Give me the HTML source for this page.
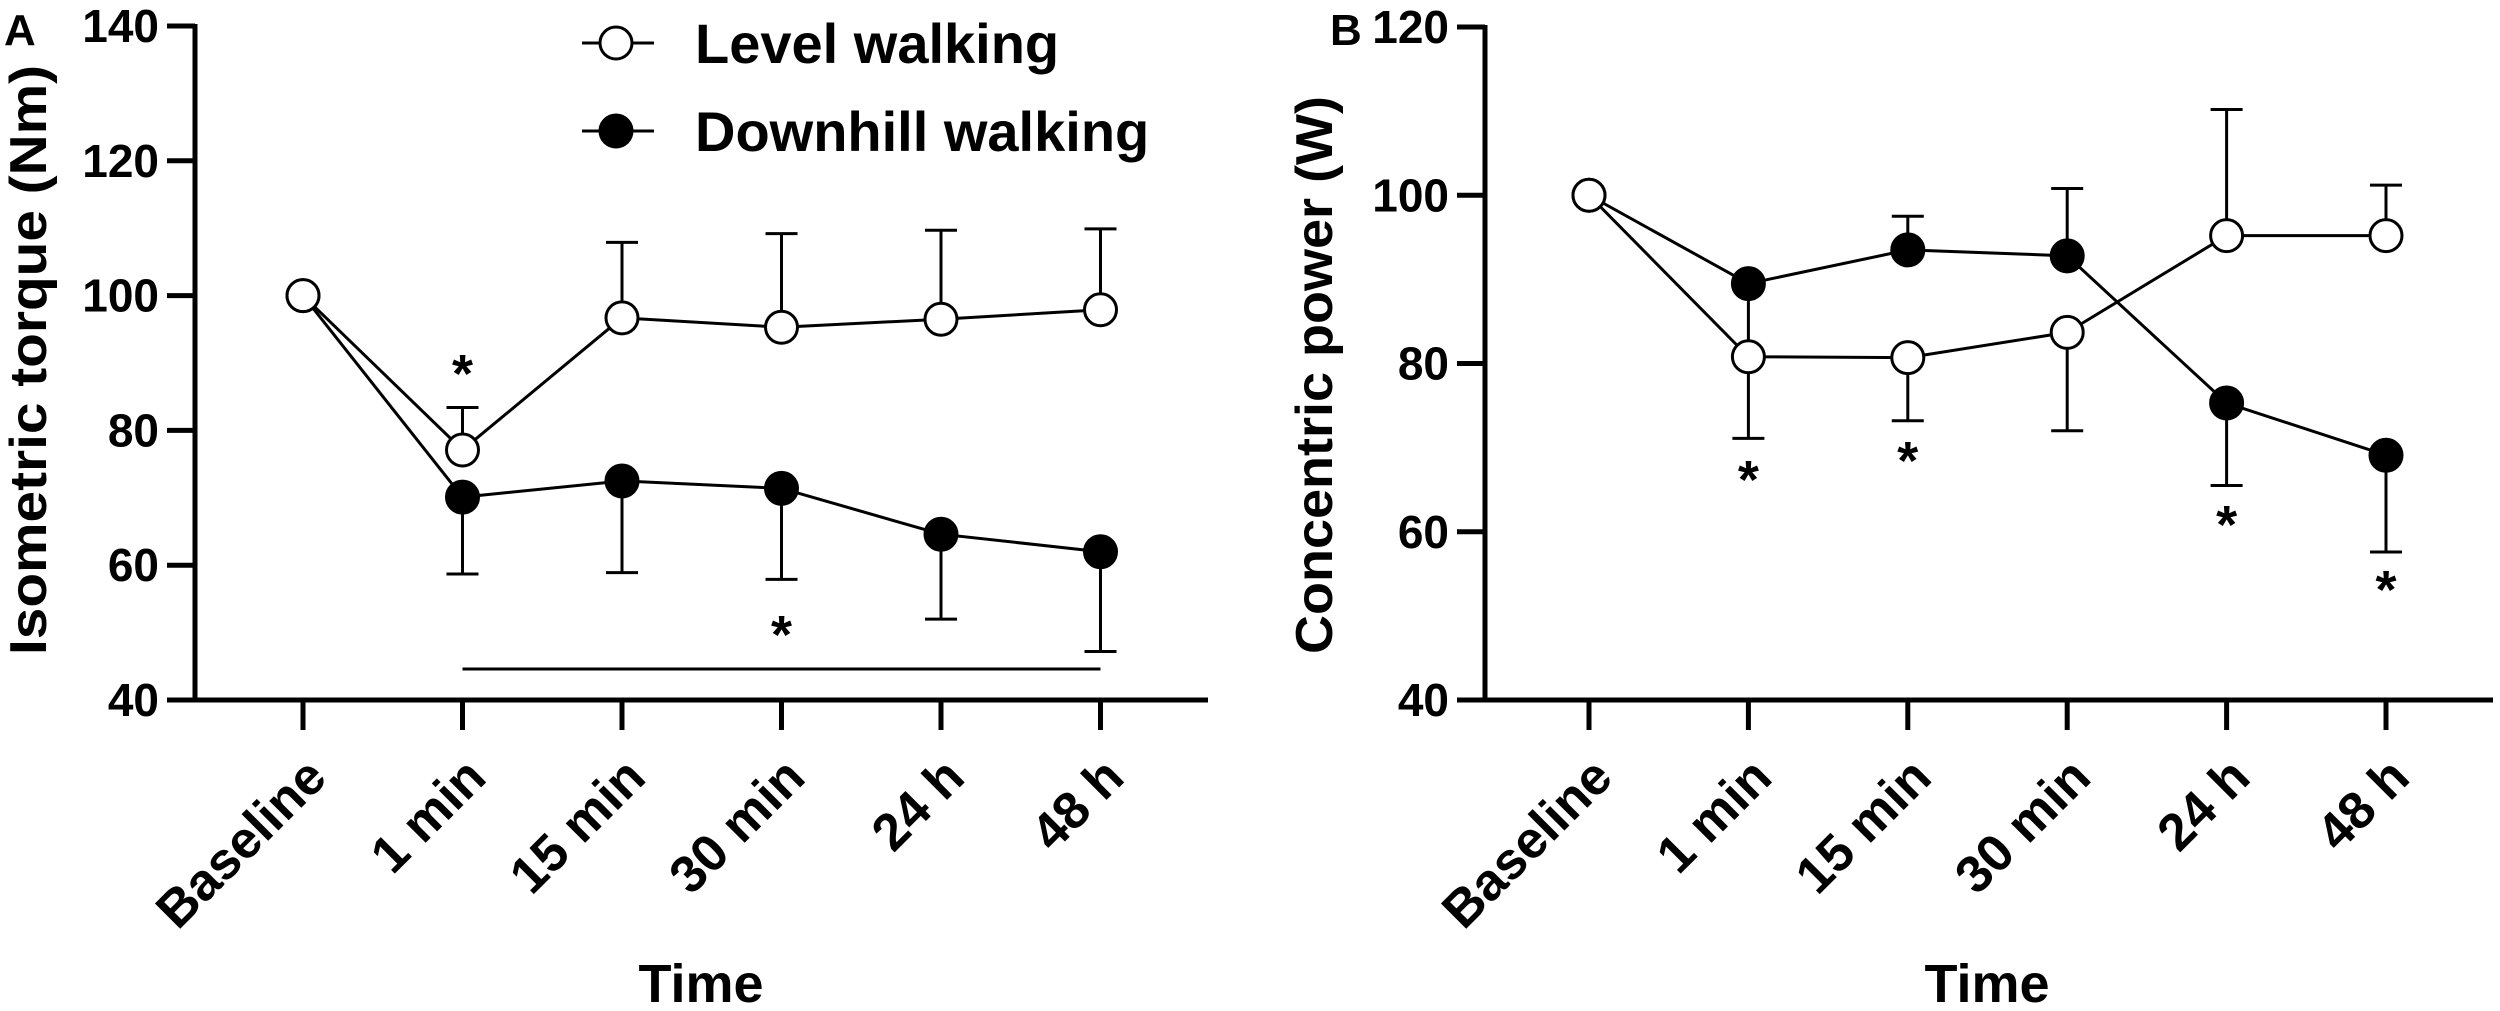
<!DOCTYPE html>
<html><head><meta charset="utf-8"><style>
html,body{margin:0;padding:0;background:#fff;}
svg{display:block;font-family:"Liberation Sans",Arial,sans-serif;font-weight:bold;}
</style></head><body>
<svg id="chart" width="2500" height="1011" viewBox="0 0 2500 1011" xmlns="http://www.w3.org/2000/svg"></svg>
<script>
const categories = ["Baseline","1 min","15 min","30 min","24 h","48 h"];
const aLevel = [100, 77.1, 96.7, 95.3, 96.5, 97.9];
const aLevelErr = [null, 83.4, 107.9, 109.2, 109.7, 109.9];
const aDown = [100, 70.1, 72.5, 71.4, 64.6, 62.0];
const aDownErr = [null, 58.7, 58.9, 57.9, 52.0, 47.2];
const aTicks = [40, 60, 80, 100, 120, 140];
const bLevel = [100, 80.8, 80.7, 83.7, 95.2, 95.2];
const bLevelErr = [null, 71.1, 73.2, 72.0, 110.2, 101.2];
const bDown = [100, 89.5, 93.5, 92.8, 75.3, 69.1];
const bDownErr = [null, 81, 97.5, 100.8, 65.5, 57.6];
const bTicks = [40, 60, 80, 100, 120];

const NS = "http://www.w3.org/2000/svg";
const svg = document.getElementById("chart");
function mk(tag, attrs, parent, txt){
  const e = document.createElementNS(NS, tag);
  for (const k in attrs) e.setAttribute(k, attrs[k]);
  if (txt !== undefined) e.textContent = txt;
  (parent || svg).appendChild(e);
  return e;
}

function panel(p){
  const g = mk("g", {});
  
  
  const y = v => p.yBot - (v - p.yMin) / (p.yMax - p.yMin) * (p.yBot - p.yTop);
  const x = i => p.x0 + i * p.dx;
  const ya = mk("line", {x1:p.ax, y1:p.yTop-2, x2:p.ax, y2:p.yBot+2, stroke:"#000","stroke-width":5}, g);
  
  
  const xa = mk("line", {x1:p.ax-2, y1:p.yBot, x2:p.axEnd, y2:p.yBot, stroke:"#000","stroke-width":5}, g);
  
  
  p.ticks.forEach(t => {
    mk("line", {x1:p.ax-28, y1:y(t), x2:p.ax, y2:y(t), stroke:"#000","stroke-width":5}, g);
    const tl = mk("text", {x:p.ax-36, y:y(t)+16, "text-anchor":"end","font-size":46}, g, String(t));
    
    
  });
  categories.forEach((c, i) => {
    mk("line", {x1:x(i), y1:p.yBot, x2:x(i), y2:p.yBot+30, stroke:"#000","stroke-width":5}, g);
    const tl = mk("text", {x:0, y:0, "text-anchor":"end","font-size":52,
      transform:`translate(${x(i)+26},${p.yBot+80}) rotate(-45)`}, g, c);
    
    
  });
  const yt = mk("text", {x:0, y:0, "text-anchor":"middle","font-size":52, textLength:p.ytLen, lengthAdjust:"spacingAndGlyphs",
    transform:`translate(${p.ytX},${p.ytC}) rotate(-90)`}, g, p.ytitle);
  
  
  const xt = mk("text", {x:p.xtX, y:1002, "text-anchor":"middle","font-size":54}, g, "Time");
  
  
  const lt = mk("text", {x:p.letterX, y:45, "font-size":44}, g, p.letter);
  
  

  function series(vals, errs, fill, nm){
    const sg = mk("g", {}, g);
    
    
    errs.forEach((e, i) => {
      if (e === null) return;
      mk("line", {x1:x(i), y1:y(vals[i]), x2:x(i), y2:y(e), stroke:"#000","stroke-width":3}, sg);
      mk("line", {x1:x(i)-16, y1:y(e), x2:x(i)+16, y2:y(e), stroke:"#000","stroke-width":3}, sg);
    });
    mk("polyline", {points: vals.map((v,i)=>x(i)+","+y(v)).join(" "), fill:"none", stroke:"#000","stroke-width":3}, sg);
    return {draw(){ vals.forEach((v,i)=>{
      const c = mk("circle", {cx:x(i), cy:y(v), r:16, fill, stroke:"#000","stroke-width":3}, sg);
      
      
    });}};
  }
  const s1 = series(p.down, p.downErr, "#000", "downhill-series");
  const s2 = series(p.level, p.levelErr, "#fff", "level-series");
  s1.draw(); s2.draw();
  p.stars.forEach(s => {
    const st = mk("text", {x:x(s[0]), y:s[1]+24, "text-anchor":"middle","font-size":54}, g, "*");
    
    
  });
  return {g, x, y};
}

const A = panel({name:"panel-a", letter:"A", letterX:4, ax:195, axEnd:1208, x0:303, dx:159.5, yTop:26, yBot:700, yMin:40, yMax:140,
  ticks:aTicks, level:aLevel, levelErr:aLevelErr, down:aDown, downErr:aDownErr,
  ytitle:"Isometric torque (Nm)", ytX:46, ytC:360, ytLen:590, xtX:701, stars:[[1,368],[3,629]]});
const sigLine = mk("line", {x1:A.x(1), y1:669, x2:A.x(5), y2:669, stroke:"#000","stroke-width":3}, A.g);



panel({name:"panel-b", letter:"B", letterX:1330, ax:1485, axEnd:2493, x0:1589, dx:159.4, yTop:27, yBot:700, yMin:40, yMax:120,
  ticks:bTicks, level:bLevel, levelErr:bLevelErr, down:bDown, downErr:bDownErr,
  ytitle:"Concentric power (W)", ytX:1332, ytC:375, ytLen:558, xtX:1987, stars:[[1,474],[2,455],[4,519],[5,584]]});

const lg = mk("g", {});


[["Level walking","#fff",43],["Downhill walking","#000",131]].forEach(([t,f,cy]) => {
  const e = mk("g", {}, lg);
  
  
  mk("line", {x1:582, y1:cy, x2:654, y2:cy, stroke:"#000","stroke-width":3}, e);
  mk("circle", {cx:616, cy, r:16, fill:f, stroke:"#000","stroke-width":3}, e);
  mk("text", {x:695, y:cy+20, "font-size":56}, e, t);
});
</script>
</body></html>
